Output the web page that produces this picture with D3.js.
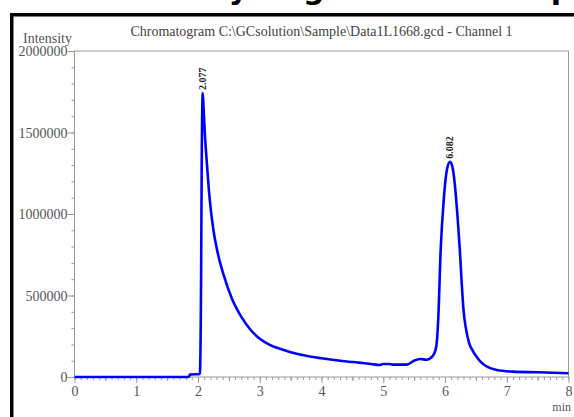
<!DOCTYPE html>
<html>
<head>
<meta charset="utf-8">
<script src="https://cdn.jsdelivr.net/npm/d3@7"></script>
<style>
  body { margin: 0; background: #fff; }
  svg { display: block; }
  text { font-family: "Liberation Serif", serif; }
</style>
</head>
<body>
<script>
// chart data
let title = "Chromatogram C:\\GCsolution\\Sample\\Data1L1668.gcd - Channel 1"
let caption = "Study of gas in the sample"
let yTicks = [0, 500000, 1000000, 1500000, 2000000]
let xTicks = [0, 1, 2, 3, 4, 5, 6, 7, 8]
let time = [0, 1.85, 1.87, 2.03, 2.05, 2.06, 2.077, 2.09, 2.11, 2.14, 2.19, 2.25, 2.32, 2.42, 2.55, 2.7, 2.85, 3.0, 3.17, 3.35, 3.5, 3.75, 4.0, 4.3, 4.6, 4.8, 4.95, 5.0, 5.1, 5.15, 5.38, 5.5, 5.6, 5.7, 5.75, 5.82, 5.86, 5.89, 5.93, 5.98, 6.03, 6.082, 6.13, 6.2, 6.24, 6.27, 6.3, 6.34, 6.39, 6.45, 6.52, 6.6, 6.68, 6.84, 7.1, 7.5, 8.0]
let intensity = [0, 0, 15000, 18000, 600000, 1300000, 1742000, 1650000, 1500000, 1330000, 1090000, 900000, 760000, 620000, 480000, 370000, 290000, 235000, 196000, 170000, 152000, 130000, 115000, 100000, 88000, 80000, 74000, 80000, 80000, 76000, 76000, 100000, 110000, 106000, 112000, 140000, 190000, 350000, 780000, 1090000, 1270000, 1321000, 1270000, 1000000, 780000, 580000, 410000, 295000, 210000, 160000, 120000, 85000, 63000, 43000, 33000, 29000, 23000]
let peaks = [{t: 2.077, v: 1742000, label: "2.077"}, {t: 6.082, v: 1321000, label: "6.082"}]

let w = 574, h = 417
let svg = d3.select("body").append("svg").attr("width", w).attr("height", h)

// cropped caption from the page above
svg.append("text")
    .attr("x", 150).attr("y", -1)
    .style("font-family", "DejaVu Sans").style("font-weight", "bold")
    .style("font-size", "30px")
    .text(caption)

// black frame of the figure
svg.append("rect").attr("x", 10).attr("y", 13).attr("width", w).attr("height", 3.5).attr("fill", "#000")
svg.append("rect").attr("x", 10).attr("y", 13).attr("width", 3.5).attr("height", h).attr("fill", "#000")

let x = d3.scaleLinear().domain([0, 8]).range([74.5, 568.5])
let y = d3.scaleLinear().domain([0, 2000000]).range([377, 51])
let grey = "#9a9a9a"
let txt = "#555"

// plot frame
svg.append("rect")
    .attr("x", x(0)).attr("y", y(2000000))
    .attr("width", x(8) - x(0)).attr("height", y(0) - y(2000000))
    .attr("fill", "none").attr("stroke", grey)

// y axis
let yMinor = d3.axisLeft(y).tickValues(d3.range(0, 2000001, 100000)).tickSize(3).tickFormat("")
let yMajor = d3.axisLeft(y).tickValues(yTicks).tickSize(7).tickFormat(d3.format("d"))
svg.append("g").attr("transform", "translate(" + x(0) + ",0)").call(yMinor)
svg.append("g").attr("class", "ymaj").attr("transform", "translate(" + x(0) + ",0)").call(yMajor)

// x axis
let xMinor = d3.axisBottom(x).tickValues(d3.range(0, 80.5, 1).map(d => d / 10)).tickSize(3).tickFormat("")
let xMid = d3.axisBottom(x).tickValues(d3.range(0.5, 8, 1)).tickSize(4).tickFormat("")
let xMajor = d3.axisBottom(x).tickValues(xTicks).tickSize(6).tickFormat(d3.format("d"))
svg.append("g").attr("transform", "translate(0," + y(0) + ")").call(xMinor)
svg.append("g").attr("transform", "translate(0," + y(0) + ")").call(xMid)
svg.append("g").attr("class", "xmaj").attr("transform", "translate(0," + y(0) + ")").call(xMajor)

svg.selectAll(".domain").remove()
svg.selectAll(".tick line").attr("stroke", grey)
svg.selectAll(".tick text").attr("fill", txt).style("font-family", "Liberation Serif").style("font-size", "14px")
svg.selectAll(".ymaj .tick text").attr("x", -7).attr("dy", "0.35em")
svg.selectAll(".xmaj .tick text").attr("y", 9)

svg.append("text").attr("x", 72).attr("y", 43).attr("text-anchor", "end")
    .attr("fill", txt).style("font-size", "14px").text("Intensity")
svg.append("text").attr("x", 571).attr("y", 411).attr("text-anchor", "end")
    .attr("fill", txt).style("font-size", "12px").text("min")
svg.append("text").attr("x", (x(0) + x(8)) / 2).attr("y", 36).attr("text-anchor", "middle")
    .attr("fill", "#444").style("font-size", "14px").text(title)

// trace
let line = d3.line().x(d => x(d[0])).y(d => y(d[1])).curve(d3.curveMonotoneX)
svg.append("path")
    .datum(d3.zip(time, intensity))
    .attr("d", line)
    .attr("fill", "none").attr("stroke", "#0000ff").attr("stroke-width", 2.6)
    .attr("stroke-linejoin", "round")

// peak labels
svg.selectAll(".peak").data(peaks).enter().append("text")
    .attr("class", "peak")
    .attr("transform", d => "translate(" + (x(d.t) + 3) + "," + (y(d.v) - 3) + ") rotate(-90)")
    .style("font-size", "10px").style("font-weight", "bold").attr("fill", "#222")
    .text(d => d.label)
</script>
</body>
</html>
